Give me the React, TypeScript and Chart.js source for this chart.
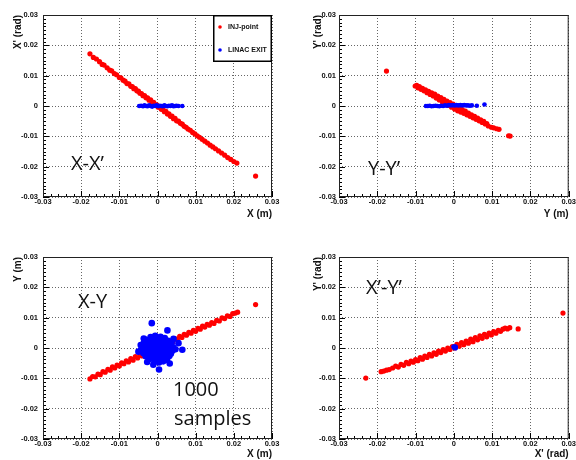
import { useEffect, useRef } from "react";
import { Chart, registerables } from "chart.js";

Chart.register(...registerables);

// ---------- data ----------
const AXIS_TICKS = [-0.03, -0.02, -0.01, 0, 0.01, 0.02, 0.03];
const SERIES_LABELS = ["INJ-point", "LINAC EXIT"];

// X - X'
const xxRed: [number, number][] = [
  [-0.0177, 0.0172], [-0.0168, 0.016], [-0.016, 0.0155], [-0.0152, 0.0146], [-0.0145, 0.0137],
  [-0.014, 0.0135], [-0.0132, 0.0126], [-0.0125, 0.0118], [-0.012, 0.0116], [-0.0113, 0.0107],
  [-0.0107, 0.0103], [-0.01, 0.0094], [-0.0096, 0.0093], [-0.009, 0.0085], [-0.0085, 0.0082],
  [-0.008, 0.0074], [-0.0075, 0.0073], [-0.007, 0.0065], [-0.0066, 0.0064], [-0.0062, 0.0057],
  [-0.0058, 0.0057], [-0.0054, 0.005], [-0.005, 0.0049], [-0.0046, 0.0042], [-0.0042, 0.0041],
  [-0.0038, 0.0034], [-0.0034, 0.0034], [-0.003, 0.0027], [-0.0026, 0.0027], [-0.0022, 0.0019],
  [-0.0018, 0.002], [-0.0014, 0.0011], [-0.001, 0.0012], [-0.0006, 0.0004], [-0.0002, 0.0004],
  [0.0002, -0.0004], [0.0006, -0.0003], [0.001, -0.0011], [0.0014, -0.001], [0.0018, -0.0019],
  [0.0022, -0.0018], [0.0026, -0.0026], [0.003, -0.0026], [0.0034, -0.0034], [0.0038, -0.0033],
  [0.0042, -0.0042], [0.0046, -0.0041], [0.005, -0.0049], [0.0055, -0.005], [0.006, -0.0057],
  [0.0065, -0.006], [0.007, -0.0067], [0.0075, -0.007], [0.008, -0.0076], [0.0086, -0.008],
  [0.0092, -0.0087], [0.0098, -0.0092], [0.0104, -0.0098], [0.011, -0.0103], [0.0117, -0.011],
  [0.0124, -0.0116], [0.0131, -0.0122], [0.0138, -0.0129], [0.0145, -0.0135], [0.0152, -0.0141],
  [0.016, -0.0148], [0.0168, -0.0155], [0.0176, -0.0162], [0.0184, -0.017], [0.0192, -0.0176],
  [0.02, -0.0183], [0.0208, -0.0188], [0.0257, -0.0231],
];
const xxBlue: [number, number][] = [
  [-0.0048, 0], [-0.0043, 0.0001], [-0.0038, -0.0001], [-0.0034, 0.0002], [-0.003, 0],
  [-0.0026, -0.0001], [-0.0022, 0.0002], [-0.0018, 0], [-0.0014, -0.0002], [-0.001, 0.0001],
  [-0.0006, 0], [-0.0002, 0.0002], [0.0002, -0.0001], [0.0006, 0.0001], [0.001, 0],
  [0.0014, -0.0001], [0.0018, 0.0002], [0.0022, 0], [0.0026, -0.0001], [0.003, 0.0001],
  [0.0034, 0], [0.0038, 0.0002], [0.0042, -0.0001], [0.0046, 0], [0.005, 0.0001],
  [0.0055, 0], [0.0065, 0],
];

// Y - Y'
const yyRed: [number, number][] = [
  [-0.0176, 0.0115],
  [-0.0101, 0.0066], [-0.0097, 0.0068], [-0.0094, 0.006], [-0.009, 0.0064], [-0.0086, 0.0055],
  [-0.0082, 0.0058], [-0.0078, 0.005], [-0.0074, 0.0053], [-0.007, 0.0044], [-0.0066, 0.0048],
  [-0.0062, 0.0038], [-0.0058, 0.0043], [-0.0054, 0.0033], [-0.005, 0.0039], [-0.0046, 0.0026],
  [-0.0042, 0.0033], [-0.0038, 0.002], [-0.0034, 0.0028], [-0.003, 0.0013], [-0.0026, 0.0022],
  [-0.0022, 0.0008], [-0.0018, 0.0016], [-0.0014, 0.0002], [-0.001, 0.0011], [-0.0006, -0.0004],
  [-0.0002, 0.0006], [0.0002, -0.001], [0.0006, 0], [0.001, -0.0016], [0.0014, -0.0005],
  [0.0018, -0.002], [0.0022, -0.0012], [0.0026, -0.0024], [0.003, -0.0017], [0.0034, -0.0029],
  [0.0038, -0.0023], [0.0042, -0.0034], [0.0046, -0.0029], [0.005, -0.0039], [0.0054, -0.0034],
  [0.0058, -0.0044], [0.0062, -0.004], [0.0066, -0.0049], [0.007, -0.0046], [0.0074, -0.0054],
  [0.0078, -0.0051], [0.0082, -0.0059], [0.0086, -0.0058], [0.009, -0.0066], [0.0098, -0.007],
  [0.0104, -0.0072], [0.0112, -0.0075], [0.0118, -0.0077], [0.0143, -0.0098], [0.0147, -0.0099],
];
const yyBlue: [number, number][] = [
  [-0.0073, 0], [-0.0068, 0], [-0.0063, 0.0001], [-0.0058, -0.0001], [-0.0053, 0],
  [-0.0048, 0.0001], [-0.0043, 0], [-0.0038, -0.0001], [-0.0033, 0.0001], [-0.0028, 0],
  [-0.0023, 0.0002], [-0.0018, 0.0001], [-0.0013, 0.0003], [-0.0008, 0.0002], [-0.0003, 0.0003],
  [0.0002, 0.0002], [0.0007, 0.0003], [0.0012, 0.0002], [0.0017, 0.0003], [0.0022, 0.0002],
  [0.0027, 0.0003], [0.0032, 0.0002], [0.0037, 0.0002], [0.0042, 0.0001], [0.0047, 0.0002],
  [0.006, 0.0001], [0.008, 0.0005],
];

// X - Y
const xyRed: [number, number][] = [
  [-0.0177, -0.0102], [-0.017, -0.0094], [-0.0163, -0.0095], [-0.0156, -0.0086], [-0.015, -0.0088],
  [-0.0143, -0.0078], [-0.0137, -0.008], [-0.013, -0.007], [-0.0124, -0.0073], [-0.0118, -0.0062],
  [-0.0112, -0.0066], [-0.0106, -0.0056], [-0.01, -0.0059], [-0.0094, -0.0049], [-0.0088, -0.0052],
  [-0.0082, -0.0042], [-0.0076, -0.0046], [-0.007, -0.0035], [-0.0064, -0.004], [-0.0058, -0.0028],
  [-0.0052, -0.0033], [-0.0046, -0.0022], [-0.004, -0.0026], [-0.003, -0.0014], [-0.002, -0.0012],
  [-0.001, 0], [0, -0.0002], [0.001, 0.001], [0.002, 0.0008], [0.003, 0.0022], [0.004, 0.002],
  [0.0046, 0.0031], [0.0052, 0.0028], [0.0058, 0.0038], [0.0064, 0.0035], [0.007, 0.0045],
  [0.0076, 0.0042], [0.0082, 0.0052], [0.0088, 0.0049], [0.0094, 0.0058], [0.01, 0.0055],
  [0.0106, 0.0065], [0.0112, 0.0062], [0.0118, 0.0072], [0.0124, 0.0069], [0.013, 0.0078],
  [0.0136, 0.0075], [0.0142, 0.0084], [0.0148, 0.0081], [0.0155, 0.0091], [0.0162, 0.0089],
  [0.0169, 0.0099], [0.0176, 0.0097], [0.0183, 0.0106], [0.019, 0.0104], [0.0197, 0.0113],
  [0.0204, 0.0115], [0.021, 0.0118], [0.0257, 0.0143],
];
const xyBlue: [number, number][] = [
  [-0.0018, 0.0036], [-0.0006, 0.004], [0.0008, 0.0037], [0.0019, 0.0033], [-0.0029, 0.0027],
  [-0.0012, 0.0028], [0.0002, 0.0026], [0.0014, 0.0029], [0.0028, 0.0024], [-0.0036, 0.0016],
  [-0.0024, 0.0018], [-0.0011, 0.0014], [0.0001, 0.0017], [0.0013, 0.0015], [0.0025, 0.0012],
  [0.0037, 0.0017], [-0.0041, 0.0006], [-0.003, 0.0004], [-0.0019, 0.0008], [-0.0007, 0.0003],
  [0.0005, 0.0007], [0.0017, 0.0004], [0.0029, 0.0006], [0.0041, 0.0002], [-0.0043, -0.0006],
  [-0.0031, -0.0004], [-0.002, -0.0009], [-0.0009, -0.0005], [0.0003, -0.0003], [0.0015, -0.0008],
  [0.0027, -0.0005], [0.0039, -0.0009], [0.0047, -0.0004], [-0.0037, -0.0017], [-0.0025, -0.0014],
  [-0.0013, -0.0019], [-0.0001, -0.0015], [0.0011, -0.0018], [0.0023, -0.0014], [0.0035, -0.0019],
  [-0.0031, -0.0027], [-0.0019, -0.0025], [-0.0007, -0.0029], [0.0006, -0.0026], [0.0018, -0.0029],
  [0.0031, -0.0026], [-0.0022, -0.0037], [-0.001, -0.0034], [0.0002, -0.0038], [0.0014, -0.0035],
  [0.0025, -0.0039], [-0.0008, -0.0045], [0.0004, -0.0048], [0.0015, -0.0044],
  [-0.0015, 0.0082], [0.0026, 0.0058], [0.0065, -0.0006], [0.0004, -0.0071], [-0.0011, -0.0055],
  [-0.0044, 0.001], [-0.005, -0.0012], [0.0055, 0.0016], [0.0032, -0.0051], [-0.0036, 0.0031],
  [0.0042, 0.003], [-0.0027, -0.0046],
];

// X' - Y'
const xpypRed: [number, number][] = [
  [-0.023, -0.0099], [-0.019, -0.0078], [-0.0183, -0.0076], [-0.0176, -0.0073], [-0.0169, -0.0071],
  [-0.016, -0.0066], [-0.0152, -0.006], [-0.0145, -0.0063], [-0.0138, -0.0054], [-0.0131, -0.0057],
  [-0.0124, -0.0047], [-0.0118, -0.0052], [-0.0112, -0.0043], [-0.0106, -0.0047], [-0.01, -0.0038],
  [-0.0094, -0.0042], [-0.0088, -0.0032], [-0.0082, -0.0037], [-0.0076, -0.0027], [-0.007, -0.0031],
  [-0.0064, -0.0021], [-0.0058, -0.0026], [-0.0052, -0.0016], [-0.0046, -0.0021], [-0.004, -0.001],
  [-0.0034, -0.0015], [-0.0028, -0.0005], [-0.0022, -0.001], [-0.0016, 0], [-0.001, -0.0005],
  [-0.0004, 0.0005], [0.0002, 0], [0.0008, 0.0012], [0.0014, 0.0006], [0.002, 0.0018],
  [0.0026, 0.0011], [0.0032, 0.0023], [0.0038, 0.0016], [0.0044, 0.0029], [0.005, 0.0021],
  [0.0056, 0.0034], [0.0062, 0.0027], [0.0068, 0.004], [0.0074, 0.0032], [0.008, 0.0045],
  [0.0086, 0.0037], [0.0092, 0.0049], [0.0098, 0.0043], [0.0104, 0.0054], [0.011, 0.0049],
  [0.0116, 0.0058], [0.0122, 0.0055], [0.0128, 0.0062], [0.0134, 0.0066], [0.014, 0.0063],
  [0.0146, 0.0067], [0.0168, 0.0063], [0.0285, 0.0115],
];
const xpypBlue: [number, number][] = [
  [0.0002, 0.0002], [0.0004, 0.0004], [0, 0.0004], [0.0004, 0],
];

// ---------- layout ----------
type Note = { text: string; x: number; y: number };
type Panel = {
  left: number; top: number;
  red: [number, number][]; blue: [number, number][];
  xTitle: string; yTitle: string;
  yWidth: number; padRight: number; padTop: number; xHeight: number;
  xTitlePad: number; yTitlePad: number; yTickPad: number;
  blueRadius: number; legend: boolean; notes: Note[];
};

const PANELS: Panel[] = [
  {
    left: 0, top: 0, red: xxRed, blue: xxBlue, xTitle: "X (m)", yTitle: "X' (rad)",
    yWidth: 43, padRight: 16, padTop: 15, xHeight: 33, xTitlePad: 10, yTitlePad: 12, yTickPad: 5,
    blueRadius: 2.3, legend: true, notes: [{ text: "X-X\u2019", x: 71, y: 170 }],
  },
  {
    left: 288, top: 0, red: yyRed, blue: yyBlue, xTitle: "Y (m)", yTitle: "Y' (rad)",
    yWidth: 51, padRight: 5, padTop: 15, xHeight: 33, xTitlePad: 10, yTitlePad: 24, yTickPad: 3,
    blueRadius: 2.3, legend: false, notes: [{ text: "Y-Y\u2019", x: 80, y: 175 }],
  },
  {
    left: 0, top: 230, red: xyRed, blue: xyBlue, xTitle: "X (m)", yTitle: "Y (m)",
    yWidth: 43, padRight: 16, padTop: 27, xHeight: 21, xTitlePad: 0, yTitlePad: 12, yTickPad: 5,
    blueRadius: 3.3, legend: false,
    notes: [{ text: "X-Y", x: 78, y: 78 }, { text: "1000", x: 173, y: 166 }, { text: "samples", x: 174, y: 195 }],
  },
  {
    left: 288, top: 230, red: xpypRed, blue: xpypBlue, xTitle: "X' (rad)", yTitle: "Y' (rad)",
    yWidth: 51, padRight: 5, padTop: 27, xHeight: 21, xTitlePad: 0, yTitlePad: 24, yTickPad: 3,
    blueRadius: 2.6, legend: false, notes: [{ text: "X\u2019-Y\u2019", x: 78, y: 64 }],
  },
];

const RED = "#ff0000";
const BLUE = "#0000ff";
const fmt = (v: number) => (v === 0 ? "0" : v.toFixed(2));

function overlay(p: Panel) {
  return {
    id: "rootStyle",
    afterDatasetsDraw(chart: any) {
      const ctx: CanvasRenderingContext2D = chart.ctx;
      const xs = chart.scales.x;
      const ys = chart.scales.y;
      const { left, right, top, bottom } = chart.chartArea;
      ctx.save();
      ctx.strokeStyle = "#000";
      ctx.lineWidth = 1;
      ctx.beginPath();
      for (let i = 0; i <= 30; i++) {
        const px = Math.round(xs.getPixelForValue(-0.03 + i * 0.002)) + 0.5;
        const len = i % 5 === 0 ? 6 : 3;
        ctx.moveTo(px, bottom);
        ctx.lineTo(px, bottom - len);
      }
      for (let i = 0; i <= 48; i++) {
        const py = Math.round(ys.getPixelForValue(-0.03 + i * 0.00125)) + 0.5;
        const len = i % 8 === 0 ? 6 : 3;
        ctx.moveTo(left, py);
        ctx.lineTo(left + len, py);
      }
      ctx.stroke();
      ctx.strokeStyle = "#222";
      ctx.strokeRect(left + 0.5, top + 0.5, right - left - 1, bottom - top - 1);

      if (p.legend) {
        const bw = 59, bh = 47;
        const bx = right - bw, by = top;
        ctx.fillStyle = "#fff";
        ctx.fillRect(bx, by, bw, bh);
        ctx.save();
        ctx.beginPath();
        ctx.rect(bx, by, bw - 1, bh);
        ctx.clip();
        const colors = [RED, BLUE];
        SERIES_LABELS.forEach((lab, i) => {
          const ry = by + 12 + i * 23;
          ctx.fillStyle = colors[i];
          ctx.beginPath();
          ctx.arc(bx + 7, ry, 1.8, 0, Math.PI * 2);
          ctx.fill();
          ctx.fillStyle = "#111";
          ctx.font = "bold 7px 'Liberation Sans', Arial, sans-serif";
          ctx.textBaseline = "middle";
          ctx.textAlign = "left";
          ctx.fillText(lab, bx + 15, ry);
        });
        ctx.restore();
        ctx.lineWidth = 1.5;
        ctx.strokeStyle = "#000";
        ctx.strokeRect(bx + 0.75, by + 0.75, bw - 1.5, bh - 1.5);
      }
      ctx.restore();
    },
    afterDraw(chart: any) {
      const ctx: CanvasRenderingContext2D = chart.ctx;
      ctx.save();
      ctx.fillStyle = "#111";
      ctx.font = "20px 'Open Sans', sans-serif";
      ctx.textAlign = "left";
      ctx.textBaseline = "alphabetic";
      p.notes.forEach((n) => ctx.fillText(n.text, n.x, n.y));
      ctx.restore();
    },
  };
}

function PanelChart({ p }: { p: Panel }) {
  const ref = useRef<HTMLCanvasElement | null>(null);
  useEffect(() => {
    if (!ref.current) return;
    const tickFont = { family: "'Liberation Sans', Arial, sans-serif", size: 7.5, weight: "bold" as const };
    const titleFont = { family: "'Liberation Sans', Arial, sans-serif", size: 10, weight: "bold" as const };
    const chart = new Chart(ref.current, {
      type: "scatter",
      data: {
        datasets: [
          {
            label: SERIES_LABELS[1],
            data: p.blue.map(([x, y]) => ({ x, y })),
            backgroundColor: BLUE,
            borderWidth: 0,
            pointRadius: p.blueRadius,
            order: 0,
          },
          {
            label: SERIES_LABELS[0],
            data: p.red.map(([x, y]) => ({ x, y })),
            backgroundColor: RED,
            borderWidth: 0,
            pointRadius: 2.6,
            order: 1,
          },
        ],
      },
      options: {
        animation: false,
        responsive: false,
        events: [],
        layout: { padding: { left: 0, right: p.padRight, top: p.padTop, bottom: 0 } },
        plugins: { legend: { display: false }, tooltip: { enabled: false } },
        scales: {
          x: {
            type: "linear",
            min: -0.03,
            max: 0.03,
            afterBuildTicks: (s: any) => {
              s.ticks = AXIS_TICKS.map((v) => ({ value: v }));
            },
            afterFit: (s: any) => {
              s.height = p.xHeight;
            },
            ticks: { font: tickFont, color: "#111", padding: 0, maxRotation: 0, autoSkip: false, callback: (v: any) => fmt(Number(v)) },
            grid: { color: "#666", lineWidth: 1, drawTicks: false },
            border: { display: false, dash: [1, 2] },
            title: { display: true, text: p.xTitle, align: "end", color: "#111", font: titleFont, padding: { top: 0, bottom: p.xTitlePad } },
          },
          y: {
            type: "linear",
            min: -0.03,
            max: 0.03,
            afterBuildTicks: (s: any) => {
              s.ticks = AXIS_TICKS.map((v) => ({ value: v }));
            },
            afterFit: (s: any) => {
              s.width = p.yWidth;
            },
            ticks: { font: tickFont, color: "#111", padding: p.yTickPad, autoSkip: false, callback: (v: any) => fmt(Number(v)) },
            grid: { color: "#666", lineWidth: 1, drawTicks: false },
            border: { display: false, dash: [1, 2] },
            title: { display: true, text: p.yTitle, align: "end", color: "#111", font: titleFont, padding: { top: p.yTitlePad, bottom: 0 } },
          },
        },
      },
      plugins: [overlay(p)],
    } as any);
    return () => chart.destroy();
  }, [p]);
  return (
    <canvas
      ref={ref}
      width={288}
      height={230}
      style={{ position: "absolute", left: p.left, top: p.top, width: 288, height: 230 }}
    />
  );
}

export default function App() {
  return (
    <div style={{ position: "absolute", left: 0, top: 0, width: 576, height: 460, background: "#fff", overflow: "hidden" }}>
      {PANELS.map((p, i) => (
        <PanelChart key={i} p={p} />
      ))}
    </div>
  );
}
